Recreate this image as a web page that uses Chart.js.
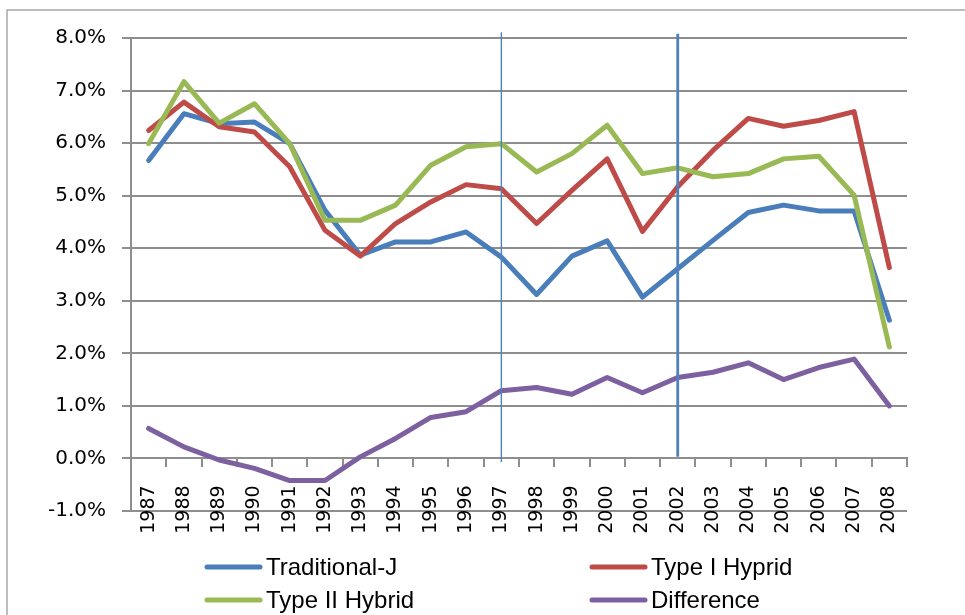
<!DOCTYPE html>
<html>
<head>
<meta charset="utf-8">
<title>Traditional vs Hybrid</title>
<script src="https://cdn.jsdelivr.net/npm/chart.js@4.4.1/dist/chart.umd.min.js"></script>
<style>
  body { margin: 0; background: #fff; overflow: hidden; }
  canvas { display: block; }
</style>
</head>
<body>
<canvas id="myChart" width="965" height="615"></canvas>
<script>
const years = ['1987', '1988', '1989', '1990', '1991', '1992', '1993', '1994', '1995', '1996', '1997',
  '1998', '1999', '2000', '2001', '2002', '2003', '2004', '2005', '2006', '2007', '2008'];
const traditionalJ = [5.67, 6.56, 6.37, 6.40, 5.99, 4.72, 3.87, 4.12, 4.12, 4.31, 3.83,
  3.12, 3.85, 4.14, 3.07, 3.61, 4.15, 4.68, 4.82, 4.71, 4.71, 2.63];
const typeOne = [6.24, 6.78, 6.31, 6.21, 5.55, 4.34, 3.85, 4.47, 4.88, 5.21, 5.13,
  4.47, 5.10, 5.70, 4.32, 5.17, 5.86, 6.47, 6.32, 6.43, 6.60, 3.63];
const typeTwo = [5.99, 7.17, 6.38, 6.75, 5.99, 4.53, 4.53, 4.82, 5.58, 5.93, 5.99,
  5.45, 5.80, 6.34, 5.42, 5.53, 5.36, 5.42, 5.70, 5.75, 5.01, 2.12];
const difference = [0.57, 0.22, -0.03, -0.19, -0.42, -0.42, 0.03, 0.38, 0.78, 0.89, 1.29,
  1.35, 1.22, 1.54, 1.25, 1.54, 1.64, 1.82, 1.50, 1.73, 1.89, 1.00];
const seriesNames = ['Traditional-J', 'Type I Hyprid', 'Type II Hybrid', 'Difference'];
const yTicks = [-1, 0, 1, 2, 3, 4, 5, 6, 7, 8];
const markerYears = ['1997', '2002'];

const gridGray = '#8e8e8e';

function makeLine(label, data, color, order) {
  return {
    label: label,
    data: data,
    borderColor: color,
    backgroundColor: color,
    borderWidth: 5,
    pointRadius: 0,
    tension: 0,
    borderJoinStyle: 'round',
    borderCapStyle: 'round',
    order: order
  };
}

// frame around the whole chart
const framePlugin = {
  id: 'frame',
  beforeDraw(chart) {
    const ctx = chart.ctx;
    ctx.save();
    ctx.strokeStyle = '#a8a8a8';
    ctx.lineWidth = 1.5;
    ctx.strokeRect(7, 10, 1100, 800);
    ctx.restore();
  }
};

// the two vertical marker lines
const markerPlugin = {
  id: 'markers',
  afterDatasetsDraw(chart) {
    const ctx = chart.ctx;
    const x = chart.scales.x;
    const y = chart.scales.y;
    const widths = [1.4, 2.8];
    const tops = [8.11, 8.08];
    const bottoms = [-0.07, 0.03];
    ctx.save();
    markerYears.forEach((yr, i) => {
      const px = x.getPixelForValue(years.indexOf(yr));
      ctx.strokeStyle = '#4f81bd';
      ctx.lineWidth = widths[i];
      ctx.beginPath();
      ctx.moveTo(px, y.getPixelForValue(tops[i]));
      ctx.lineTo(px, y.getPixelForValue(bottoms[i]));
      ctx.stroke();
    });
    ctx.restore();
  }
};

// legend in two columns under the chart
const legendPlugin = {
  id: 'twoColLegend',
  afterDraw(chart) {
    const ctx = chart.ctx;
    const colX = [205, 590];
    const rowY = [567, 600];
    ctx.save();
    ctx.font = '24px "Liberation Sans", Arial, sans-serif';
    ctx.textBaseline = 'middle';
    ctx.textAlign = 'left';
    chart.data.datasets.forEach((ds, i) => {
      const cx = colX[i % 2];
      const cy = rowY[Math.floor(i / 2)];
      ctx.strokeStyle = ds.borderColor;
      ctx.lineWidth = 5;
      ctx.lineCap = 'round';
      ctx.beginPath();
      ctx.moveTo(cx + 2, cy);
      ctx.lineTo(cx + 55, cy);
      ctx.stroke();
      ctx.fillStyle = '#000';
      ctx.fillText(ds.label, cx + 61, cy + 1);
    });
    ctx.restore();
  }
};

const config = {
  type: 'line',
  data: {
    labels: years,
    datasets: [
      makeLine(seriesNames[0], traditionalJ, '#4a7ebb', 4),
      makeLine(seriesNames[1], typeOne, '#be4b48', 3),
      makeLine(seriesNames[2], typeTwo, '#98b954', 2),
      makeLine(seriesNames[3], difference, '#7d60a0', 1)
    ]
  },
  options: {
    responsive: false,
    animation: false,
    devicePixelRatio: 1,
    layout: { padding: { top: 38, right: 58, bottom: 104, left: 0 } },
    plugins: {
      legend: { display: false },
      tooltip: { enabled: false }
    },
    scales: {
      x: {
        type: 'category',
        position: { y: 0 },
        offset: true,
        afterFit(scale) { scale.height = 0; },
        grid: {
          offset: true,
          drawOnChartArea: false,
          drawTicks: true,
          tickLength: 8,
          color: gridGray,
          lineWidth: 2
        },
        border: { display: true, color: gridGray, width: 2 },
        ticks: {
          autoSkip: false,
          minRotation: 90,
          maxRotation: 90,
          padding: 19,
          color: '#000',
          font: { family: '"DejaVu Sans", sans-serif', size: 19 }
        }
      },
      y: {
        min: yTicks[0],
        max: yTicks[yTicks.length - 1],
        afterFit(scale) { scale.width = 131; },
        afterBuildTicks(scale) { scale.ticks = yTicks.map(v => ({ value: v })); },
        grid: { color: gridGray, lineWidth: 2, tickLength: 9 },
        border: { display: true, color: gridGray, width: 2 },
        ticks: {
          padding: 16,
          color: '#000',
          font: { family: '"DejaVu Sans", sans-serif', size: 20 },
          callback: (v) => v.toFixed(1) + '%'
        }
      }
    }
  },
  plugins: [framePlugin, markerPlugin, legendPlugin]
};

const chart = new Chart(document.getElementById('myChart'), config);
</script>
</body>
</html>
